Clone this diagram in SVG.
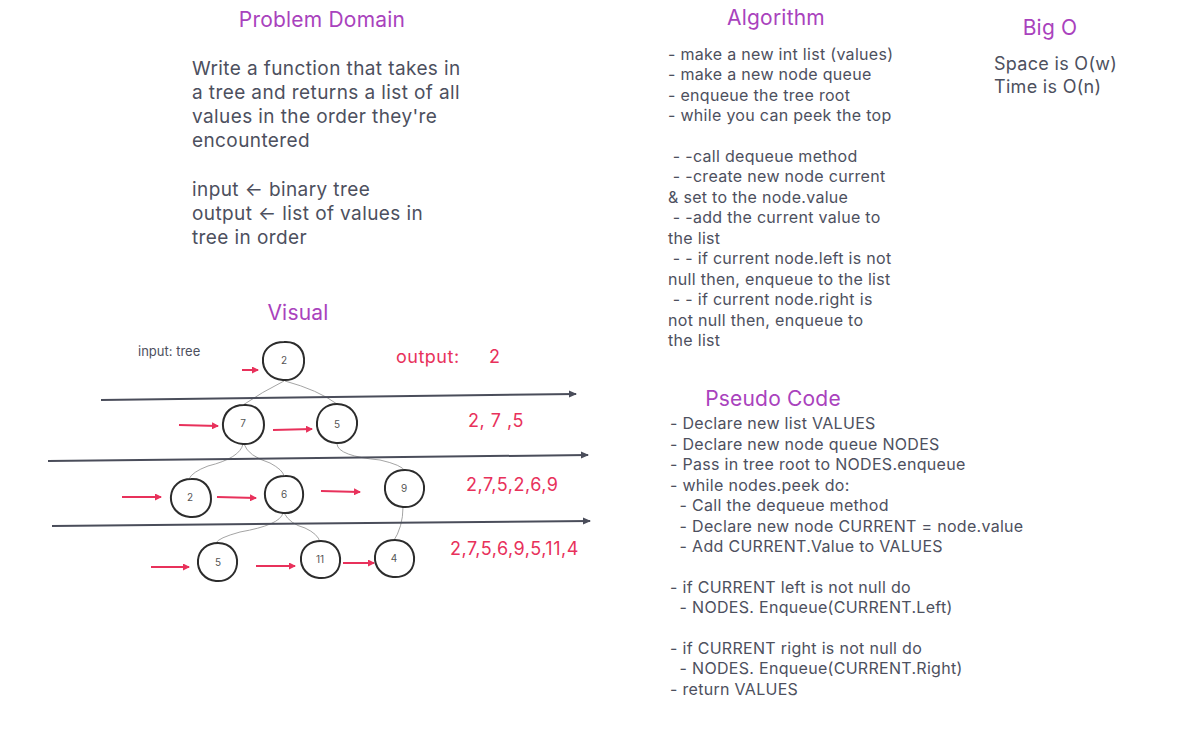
<svg xmlns="http://www.w3.org/2000/svg" width="1198" height="729" viewBox="0 0 1198 729">
<style>
text{font-family:Inter,"Noto Sans","Liberation Sans",sans-serif;white-space:pre;}
.title{fill:#a942bd;font-size:21px;letter-spacing:0.2px;text-anchor:middle;}
.body{fill:#4d505e;font-size:19px;letter-spacing:0.4px;}
.big{fill:#4d505e;font-size:18px;letter-spacing:0.3px;}
.alg{fill:#4d505e;font-size:16px;letter-spacing:0.3px;}
.red{fill:#e8315b;font-size:18px;letter-spacing:0.5px;}
.nl{fill:#555;font-size:10px;text-anchor:middle;}
.node{fill:#fff;stroke:#2c2c2c;stroke-width:2;}
.edge{fill:none;stroke:#9a9a9a;stroke-width:0.9;}
.lvl{fill:none;stroke:#4a4d5a;stroke-width:2;marker-end:url(#ah);}
.ra{fill:none;stroke:#e8315b;stroke-width:2;marker-end:url(#rh);}
</style>
<defs>
<marker id="ah" markerWidth="8" markerHeight="8" refX="7" refY="4" orient="auto" markerUnits="userSpaceOnUse"><path d="M0,0.5 L8,4 L0,7.5 Z" fill="#4a4d5a"/></marker>
<marker id="rh" markerWidth="7" markerHeight="7" refX="6" refY="3.5" orient="auto" markerUnits="userSpaceOnUse"><path d="M0,0 L7,3.5 L0,7 Z" fill="#e8315b"/></marker>
</defs>
<rect width="1198" height="729" fill="#fff"/>

<g id="problem-domain">
<text class="title" x="322" y="27">Problem Domain</text>
<text class="body" x="192" y="75">Write a function that takes in</text>
<text class="body" x="192" y="99">a tree and returns a list of all</text>
<text class="body" x="192" y="123">values in the order they're</text>
<text class="body" x="192" y="147">encountered</text>
<text class="body" x="192" y="196">input ← binary tree</text>
<text class="body" x="192" y="220">output ← list of values in</text>
<text class="body" x="192" y="244">tree in order</text>
</g>

<g id="algorithm">
<text class="title" x="776" y="25">Algorithm</text>
<text class="alg" x="668" y="60">- make a new int list (values)</text>
<text class="alg" x="668" y="80">- make a new node queue</text>
<text class="alg" x="668" y="101">- enqueue the tree root</text>
<text class="alg" x="668" y="121">- while you can peek the top</text>
<text class="alg" x="668" y="162"> - -call dequeue method</text>
<text class="alg" x="668" y="182"> - -create new node current</text>
<text class="alg" x="668" y="203">&amp; set to the node.value</text>
<text class="alg" x="668" y="223"> - -add the current value to</text>
<text class="alg" x="668" y="244">the list</text>
<text class="alg" x="668" y="264"> - - if current node.left is not</text>
<text class="alg" x="668" y="285">null then, enqueue to the list</text>
<text class="alg" x="668" y="305"> - - if current node.right is</text>
<text class="alg" x="668" y="326">not null then, enqueue to</text>
<text class="alg" x="668" y="346">the list</text>
</g>

<g id="big-o">
<text class="title" x="1050" y="35">Big O</text>
<text class="big" x="994" y="70">Space is O(w)</text>
<text class="big" x="994" y="93">Time is O(n)</text>
</g>

<g id="pseudo-code">
<text class="title" x="773" y="406">Pseudo Code</text>
<text class="alg" x="670" y="429">- Declare new list VALUES</text>
<text class="alg" x="670" y="450">- Declare new node queue NODES</text>
<text class="alg" x="670" y="470">- Pass in tree root to NODES.enqueue</text>
<text class="alg" x="670" y="491">- while nodes.peek do:</text>
<text class="alg" x="670" y="511">  - Call the dequeue method</text>
<text class="alg" x="670" y="532">  - Declare new node CURRENT = node.value</text>
<text class="alg" x="670" y="552">  - Add CURRENT.Value to VALUES</text>
<text class="alg" x="670" y="593">- if CURRENT left is not null do</text>
<text class="alg" x="670" y="613">  - NODES. Enqueue(CURRENT.Left)</text>
<text class="alg" x="670" y="654">- if CURRENT right is not null do</text>
<text class="alg" x="670" y="674">  - NODES. Enqueue(CURRENT.Right)</text>
<text class="alg" x="670" y="695">- return VALUES</text>
</g>

<g id="visual-labels">
<text class="title" x="298" y="320">Visual</text>
<text x="138" y="356" style="fill:#4d505e;font-size:13px">input: tree</text>
<text class="red" x="396" y="363">output:</text>
<text class="red" x="489" y="363">2</text>
<text class="red" x="468" y="427">2, 7 ,5</text>
<text class="red" x="466" y="491">2,7,5,2,6,9</text>
<text class="red" x="450" y="555">2,7,5,6,9,5,11,4</text>
</g>

<g id="connectors">
<path class="edge" d="M284,381 Q262,392 243,405"/>
<path class="edge" d="M285,381 Q318,390 337,404"/>
<path class="edge" d="M243,444 Q240,458 208,466 Q192,472 189,479"/>
<path class="edge" d="M244,444 Q248,456 270,463 Q283,470 284,476"/>
<path class="edge" d="M337,444 Q338,456 380,460 Q402,465 405,471"/>
<path class="edge" d="M283,513 Q280,525 240,532 Q218,538 216,543"/>
<path class="edge" d="M284,513 Q290,524 305,528 Q318,534 320,542"/>
<path class="edge" d="M403,507 Q403,527 393,542"/>
<path class="lvl" d="M101,400 L576,394"/>
<path class="lvl" d="M48,461 L588,455"/>
<path class="lvl" d="M52,526 L590,521"/>
<path class="ra" d="M242,370 L258,370"/>
<path class="ra" d="M179,425 L218,426"/>
<path class="ra" d="M273,430 L312,429"/>
<path class="ra" d="M122,497 L161,497"/>
<path class="ra" d="M217,497 L256,498"/>
<path class="ra" d="M321,491 L360,492"/>
<path class="ra" d="M151,567 L189,567"/>
<path class="ra" d="M256,566 L295,566"/>
<path class="ra" d="M343,563 L374,563"/>
</g>

<g id="node-root"><path class="node" d="M284,342 C299,341 305,352 304,363 C303,374 294,381 283,380 C270,379 262,370 263,358 C264,348 273,342 284,342 Z"/><text class="nl" x="284" y="364">2</text></g>
<g id="node-7"><path class="node" d="M244,405 C257,404 264,414 264,425 C264,436 255,445 243,444 C231,443 222,435 223,423 C224,412 232,405 244,405 Z"/><text class="nl" x="243" y="427">7</text></g>
<g id="node-5a"><path class="node" d="M337,404 C350,404 358,414 357,425 C356,436 347,444 336,443 C324,442 316,433 317,422 C318,411 326,404 337,404 Z"/><text class="nl" x="337" y="428">5</text></g>
<g id="node-2b"><path class="node" d="M191,479 C204,478 211,488 211,499 C211,510 202,518 190,517 C178,516 170,507 171,496 C172,486 180,479 191,479 Z"/><text class="nl" x="190" y="501">2</text></g>
<g id="node-6"><path class="node" d="M285,476 C298,475 304,486 303,497 C302,507 294,514 283,513 C271,512 264,503 265,492 C266,482 274,476 285,476 Z"/><text class="nl" x="284" y="498">6</text></g>
<g id="node-9"><path class="node" d="M405,470 C417,470 425,479 424,490 C423,501 414,508 403,507 C391,506 384,497 385,486 C386,476 394,470 405,470 Z"/><text class="nl" x="404" y="492">9</text></g>
<g id="node-5b"><path class="node" d="M218,543 C231,543 238,553 237,564 C236,575 227,582 216,581 C205,580 197,571 198,560 C199,550 207,543 218,543 Z"/><text class="nl" x="218" y="566">5</text></g>
<g id="node-11"><path class="node" d="M321,541 C334,541 341,551 340,562 C339,573 330,579 319,578 C308,577 300,568 301,557 C302,547 310,541 321,541 Z"/><text class="nl" x="320" y="563">11</text></g>
<g id="node-4"><path class="node" d="M395,540 C408,540 415,550 414,561 C413,572 404,578 393,577 C382,576 374,567 375,556 C376,546 384,540 395,540 Z"/><text class="nl" x="394" y="562">4</text></g>
</svg>
